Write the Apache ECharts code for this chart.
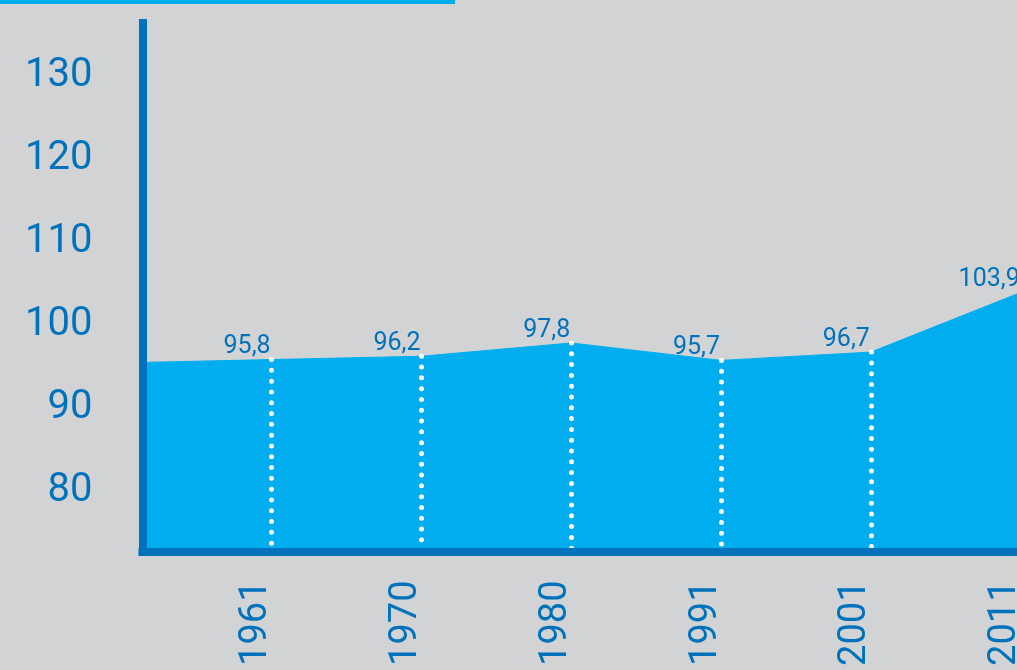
<!DOCTYPE html>
<html>
<head>
<meta charset="utf-8">
<script src="https://cdn.jsdelivr.net/npm/echarts@6/dist/echarts.min.js"></script>
<style>
html,body{margin:0;padding:0;background:#d1d3d4;}
#c{width:1017px;height:670px;}
</style>
</head>
<body>
<div id="c"></div>
<script>
// ---- data ----
const years = ['1961', '1970', '1980', '1991', '2001', '2011'];
const values = [95.8, 96.2, 97.8, 95.7, 96.7, 103.9];
const leadValue = 95.4;           // value entering from the left edge (before 1961)
const yTicks = [80, 90, 100, 110, 120, 130];
const Y_MIN = 72.64, Y_MAX = 136.41;

// ---- styles ----
const DARK = '#0072bc', LIGHT = '#00aeef';
const FONT = "Roboto, 'Noto Sans', sans-serif";

const seriesData = [[-1, leadValue]].concat(values.map((v, i) => [i, v]));
const xIdx = years.map((_, i) => i);

const chart = echarts.init(document.getElementById('c'), null, {renderer: 'canvas'});
chart.setOption({
  backgroundColor: '#d1d3d4',
  animation: false,
  graphic: [{
    type: 'rect', left: 0, top: 0, shape: {width: 455, height: 4},
    style: {fill: LIGHT}
  }],
  grid: {left: 142.5, right: -3.7, top: 23, bottom: 118.5, containLabel: false, outerBoundsMode: 'none'},
  xAxis: {
    type: 'value', min: -0.862, max: 5, z: 10,
    axisLine: {show: true, onZero: false, lineStyle: {color: DARK, width: 8, cap: 'square'}},
    axisTick: {show: false},
    splitLine: {show: false},
    axisLabel: {
      customValues: xIdx,
      formatter: v => years[Math.round(v)] || '',
      rotate: 90, margin: 29, color: DARK, fontFamily: FONT, fontSize: 38,
      verticalAlign: 'bottom', lineHeight: 30
    }
  },
  yAxis: {
    type: 'value', min: Y_MIN, max: Y_MAX, z: 10,
    axisLine: {show: true, onZero: false, lineStyle: {color: DARK, width: 8, cap: 'square'}},
    axisTick: {show: false},
    splitLine: {show: false},
    axisLabel: {
      customValues: yTicks, margin: 50, color: DARK, fontFamily: FONT, fontSize: 40
    }
  },
  series: [{
    type: 'line',
    data: seriesData,
    symbol: 'circle', symbolSize: 0,
    itemStyle: {color: LIGHT},
    lineStyle: {color: LIGHT, width: 1},
    areaStyle: {color: LIGHT, opacity: 1},
    label: {
      show: true, position: 'top', distance: 0, align: 'right', offset: [-1, 0],
      color: DARK, fontFamily: FONT, fontSize: 25,
      formatter: p => p.value[0] < 0 ? '' : String(p.value[1]).replace('.', ',')
    },
    markLine: {
      silent: true, symbol: 'none', label: {show: false},
      lineStyle: {color: '#ffffff', width: 5, type: [0, 10.8], cap: 'round'},
      data: values.map((v, i) => [{coord: [i, v]}, {coord: [i, Y_MIN]}])
    }
  }]
});
</script>
</body>
</html>
